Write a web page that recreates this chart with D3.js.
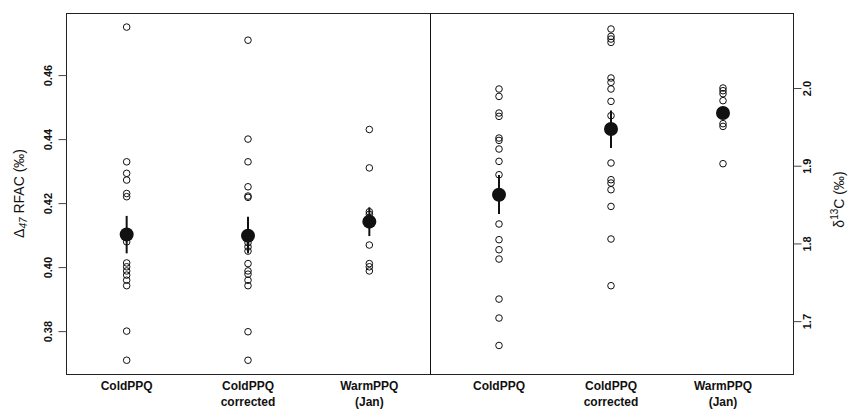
<!DOCTYPE html>
<html>
<head>
<meta charset="utf-8">
<script src="https://cdn.jsdelivr.net/npm/d3@7"></script>
<style>
  body { margin: 0; background: #fff; }
  text { font-family: "Liberation Sans", Arial, Helvetica, sans-serif; }
</style>
</head>
<body>
<svg id="chart" width="850" height="413"></svg>
<script>
// group labels (two lines under each group)
var groupLabels = [['ColdPPQ'], ['ColdPPQ', 'corrected'], ['WarmPPQ', '(Jan)']];

// clumped isotope values, left panel
var d47Cold = [0.475, 0.4329, 0.4293, 0.4272, 0.4230, 0.4220, 0.4079, 0.4013, 0.4001, 0.3988, 0.3975, 0.3959, 0.3942, 0.3800, 0.3709];
var d47ColdCorr = [0.4709, 0.4400, 0.4329, 0.4251, 0.4222, 0.4218, 0.4076, 0.4063, 0.4050, 0.4011, 0.3988, 0.3978, 0.3959, 0.3942, 0.3798, 0.3709];
var d47Warm = [0.4430, 0.4310, 0.4173, 0.4165, 0.4069, 0.4011, 0.4001, 0.3988];
var d47Mean = [0.4102, 0.4098, 0.4142];
var d47Lo = [0.4043, 0.4043, 0.4097];
var d47Hi = [0.4160, 0.4157, 0.4187];

// carbon isotope values, right panel
var d13Cold = [1.9987, 1.9892, 1.9678, 1.9635, 1.9356, 1.9326, 1.9215, 1.9056, 1.8884, 1.8250, 1.8048, 1.7919, 1.7799, 1.7284, 1.7040, 1.6687];
var d13ColdCorr = [2.0759, 2.0664, 2.0630, 2.0587, 2.0129, 2.0073, 1.9987, 1.9828, 1.9644, 1.9035, 1.8820, 1.8777, 1.8691, 1.8476, 1.8057, 1.7456];
var d13Warm = [2.0000, 1.9965, 1.9927, 1.9837, 1.9541, 1.9506, 1.9026];
var d13Mean = [1.8627, 1.9472, 1.9678];
var d13Lo = [1.8378, 1.9228, 1.9600];
var d13Hi = [1.8880, 1.9712, 1.9760];

var leftTicks = [0.38, 0.40, 0.42, 0.44, 0.46];
var rightTicks = [1.7, 1.8, 1.9, 2.0];

var svg = d3.select('#chart');
var top_ = 13, bottom = 374, left = 66, mid = 430, right = 793;

var yL = d3.scaleLinear().domain([0.3666, 0.4794]).range([bottom, top_]);
var yR = d3.scaleLinear().domain([1.632, 2.0965]).range([bottom, top_]);
var xL = d3.scaleLinear().domain([0.5, 3.5]).range([left, mid]);
var xR = d3.scaleLinear().domain([0.5, 3.5]).range([443, 779]);

// frame
svg.append('rect')
    .attr('x', left + 0.5).attr('y', top_ + 0.5)
    .attr('width', right - left).attr('height', bottom - top_)
    .attr('fill', 'none').attr('stroke', '#222').attr('stroke-width', 1);
svg.append('line')
    .attr('x1', mid + 0.5).attr('x2', mid + 0.5)
    .attr('y1', top_).attr('y2', bottom + 1)
    .attr('stroke', '#111').attr('stroke-width', 1);

// axes
function styleAxis(g, dx) {
    g.select('.domain').remove();
    g.selectAll('line').attr('stroke', '#444');
    g.selectAll('text')
        .attr('x', 0).attr('y', 0)
        .attr('dy', '0.35em')
        .attr('text-anchor', 'middle')
        .attr('transform', 'translate(' + dx + ',0) rotate(-90)')
        .attr('font-size', '11px')
        .attr('font-weight', 'bold')
        .attr('fill', '#111');
}

svg.append('g')
    .attr('transform', 'translate(' + (left + 0.5) + ',0)')
    .call(d3.axisLeft(yL).tickValues(leftTicks).tickSize(8).tickFormat(d3.format('.2f')))
    .call(g => styleAxis(g, -18));

svg.append('g')
    .attr('transform', 'translate(' + (right + 0.5) + ',0)')
    .call(d3.axisRight(yR).tickValues(rightTicks).tickSize(8).tickFormat(d3.format('.1f')))
    .call(g => styleAxis(g, 14));

// points
function drawPanel(series, means, lo, hi, x, y) {
    var g = svg.append('g');
    series.forEach(function(vals, i) {
        g.selectAll(null)
            .data(vals)
            .join('circle')
            .attr('cx', x(i + 1))
            .attr('cy', d => y(d))
            .attr('r', 3.3)
            .attr('fill', 'none')
            .attr('stroke', '#111')
            .attr('stroke-width', 1);
    });
    g.selectAll(null)
        .data(means)
        .join('line')
        .attr('x1', (d, i) => x(i + 1))
        .attr('x2', (d, i) => x(i + 1))
        .attr('y1', (d, i) => y(lo[i]))
        .attr('y2', (d, i) => y(hi[i]))
        .attr('stroke', '#111')
        .attr('stroke-width', 2);
    g.selectAll(null)
        .data(means)
        .join('circle')
        .attr('cx', (d, i) => x(i + 1))
        .attr('cy', d => y(d))
        .attr('r', 7)
        .attr('fill', '#111');
}

drawPanel([d47Cold, d47ColdCorr, d47Warm], d47Mean, d47Lo, d47Hi, xL, yL);
drawPanel([d13Cold, d13ColdCorr, d13Warm], d13Mean, d13Lo, d13Hi, xR, yR);

// group labels under both panels
[xL, xR].forEach(function(x) {
    groupLabels.forEach(function(lines, i) {
        var t = svg.append('text')
            .attr('x', x(i + 1))
            .attr('y', 390)
            .attr('text-anchor', 'middle')
            .attr('font-size', '12px')
            .attr('font-weight', 'bold')
            .attr('fill', '#111');
        lines.forEach(function(s, k) {
            t.append('tspan')
                .attr('x', x(i + 1))
                .attr('dy', k === 0 ? 0 : 16)
                .text(s);
        });
    });
});

// axis titles
var yMid = (top_ + bottom) / 2;
var lt = svg.append('text')
    .attr('transform', 'translate(24,' + yMid + ') rotate(-90)')
    .attr('text-anchor', 'middle')
    .attr('font-size', '14px')
    .attr('fill', '#111');
lt.append('tspan').text('\u0394');
lt.append('tspan').attr('font-size', '10px').attr('font-style', 'italic').attr('dy', 3).text('47');
lt.append('tspan').attr('dy', -3).text(' RFAC (\u2030)');

var rt = svg.append('text')
    .attr('transform', 'translate(844,' + (yMid + 6) + ') rotate(-90)')
    .attr('text-anchor', 'middle')
    .attr('font-size', '14px')
    .attr('fill', '#111');
rt.append('tspan').text('\u03b4');
rt.append('tspan').attr('font-size', '10px').attr('dy', -6).text('13');
rt.append('tspan').attr('dy', 6).text('C (\u2030)');
</script>
</body>
</html>
